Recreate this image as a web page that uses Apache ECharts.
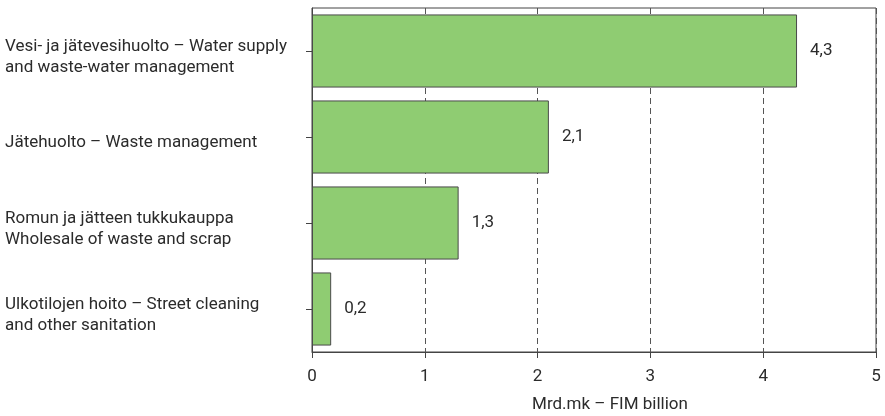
<!DOCTYPE html>
<html>
<head>
<meta charset="utf-8">
<script src="https://cdn.jsdelivr.net/npm/echarts@6/dist/echarts.min.js"></script>
<style>html,body{margin:0;padding:0;background:#fff;}#c{width:885px;height:416px;}</style>
</head>
<body>
<div id="c"></div>
<script>
var categories = [
  "Vesi- ja jätevesihuolto – Water supply\nand waste-water management",
  "Jätehuolto – Waste management",
  "Romun ja jätteen tukkukauppa\nWholesale of waste and scrap",
  "Ulkotilojen hoito – Street cleaning\nand other sanitation"
];
var values = [4.3, 2.1, 1.3, 0.17];
var valueLabels = ["4,3", "2,1", "1,3", "0,2"];
var xTicks = [0, 1, 2, 3, 4, 5];
var axisTitle = "Mrd.mk – FIM billion";

var FONT = 'Roboto, "Liberation Sans", sans-serif';
var FS = 17;
var TXT = '#2b2b2b';
var chart = echarts.init(document.getElementById('c'), null, {renderer: 'canvas'});
chart.setOption({
  animation: false,
  backgroundColor: '#ffffff',
  grid: {left: 312, right: 9, top: 8, bottom: 64, show: true, borderColor: '#444', borderWidth: 1,
    containLabel: false, outerBoundsMode: 'none'},
  xAxis: {
    type: 'value', min: xTicks[0], max: xTicks[xTicks.length - 1], interval: 1,
    axisLine: {show: true, lineStyle: {color: '#444', width: 1}},
    axisTick: {show: true, length: 6, lineStyle: {color: '#444'}},
    axisLabel: {fontFamily: FONT, fontSize: FS, color: TXT, margin: 16,
      formatter: function (v) { return String(v); }},
    splitLine: {show: true, lineStyle: {color: '#555', type: [6, 4], width: 1}},
    name: axisTitle, nameLocation: 'middle', nameGap: 44,
    nameTextStyle: {fontFamily: FONT, fontSize: FS, color: TXT, padding: [0, 0, 0, 32]}
  },
  yAxis: {
    type: 'category', data: categories, inverse: true,
    axisLine: {show: true, lineStyle: {color: '#444', width: 1}},
    axisTick: {show: true, alignWithLabel: true, length: 6, lineStyle: {color: '#444'}},
    axisLabel: {fontFamily: FONT, fontSize: FS, color: TXT, align: 'left', margin: 307,
      formatter: function (v) {
        return '{s| }\n' + v.split('\n').map(function (l) { return '{t|' + l + '}'; }).join('\n');
      },
      rich: {
        s: {fontSize: 2, lineHeight: 12},
        t: {fontFamily: FONT, fontSize: FS, color: TXT, lineHeight: 21}
      }
    },
    splitLine: {show: false}
  },
  series: [{
    type: 'bar', data: values, barWidth: '85%',
    itemStyle: {color: '#8fcc72', borderColor: '#4a4a4a', borderWidth: 1},
    label: {show: true, position: 'right', distance: 13, fontFamily: FONT, fontSize: FS, color: TXT,
      formatter: function (p) { return valueLabels[p.dataIndex]; }}
  }]
});
</script>
</body>
</html>
